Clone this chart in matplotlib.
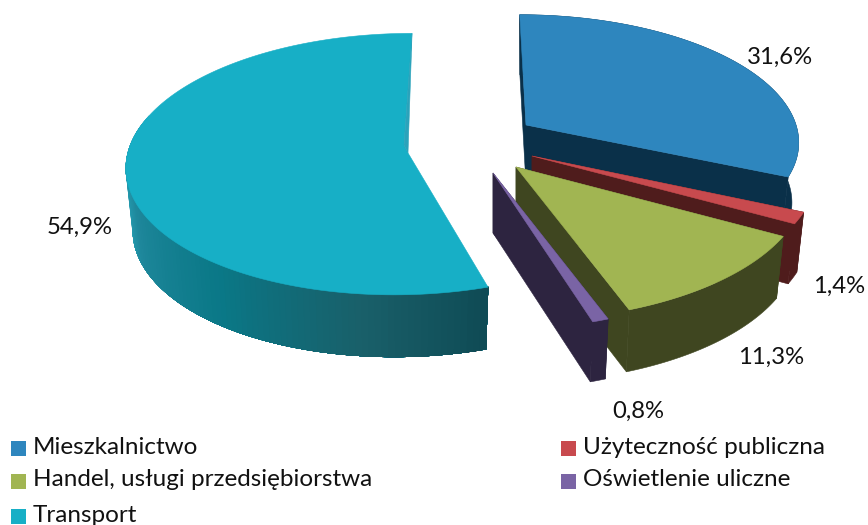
import numpy as np
import matplotlib
matplotlib.use("Agg")
import matplotlib.pyplot as plt
from matplotlib.patches import Polygon, Rectangle

# data
categories = ["Mieszkalnictwo", "Użyteczność publiczna", "Handel, usługi przedsiębiorstwa",
              "Oświetlenie uliczne", "Transport"]
shares = [31.6, 1.4, 11.3, 0.8, 54.9]

top_colors = ["#2E86BE", "#C84A4E", "#A1B552", "#7A64A5", "#17AFC6"]
side_colors = ["#0A3049", "#4F1C1C", "#3F4620", "#2D2440", "#0A7888"]

# where each exploded slice sits on the canvas: tip x, tip y, a, b, shear, depth
slice_geom = [
    (526, 125, 270, 123, -7, 60),
    (532, 156, 283, 133, 0, 60),
    (516, 167, 288, 136, 0, 62),
    (493, 173, 293, 139, 0, 60),
    (404, 149, 275, 129, 9, 62),
]
label_pos = [(780, 57), (839, 286), (771, 357), (638, 411), (80, 227)]
legend_pos = [(11, 441), (561, 441), (11, 474), (561, 474), (11, 509)]

persp = 0.1155
bottom_shrink = 0.975

plt.rcParams['font.family'] = ['Lato', 'DejaVu Sans']

fig = plt.figure(figsize=(8.68, 5.25), dpi=100)
ax = fig.add_axes([0, 0, 1, 1])
ax.set_xlim(0, 868)
ax.set_ylim(525, 0)
ax.axis('off')


def ring(theta, geom, bottom=False):
    # circle seen in perspective, theta clockwise from the far side
    tx, ty, a, b, s, d = geom
    w = 1 + persp * np.cos(theta)
    x = (a * np.sin(theta) + s * np.cos(theta)) / w
    y = -b * np.cos(theta) / w
    if bottom:
        return np.column_stack([tx + x * bottom_shrink, ty + d + y])
    return np.column_stack([tx + x, ty + y])


def poly(pts, color, z):
    ax.add_patch(Polygon(pts, closed=True, facecolor=color, edgecolor=color, lw=0.4, zorder=z))


def teal_shade(theta):
    stops = np.radians([162, 185, 215, 245, 262, 280])
    rgb = np.array([[15, 75, 85], [25, 95, 105], [10, 120, 135],
                    [30, 135, 155], [40, 165, 185], [40, 165, 185]]) / 255
    return [np.interp(theta, stops, rgb[:, i]) for i in range(3)]


edges = np.radians(np.concatenate([[0], np.cumsum(shares)]) * 3.6)

for i, share in enumerate(shares):
    geom = slice_geom[i]
    t0, t1 = edges[i], edges[i + 1]
    theta = np.linspace(t0, t1, 160)
    tx, ty, a, b, s, d = geom
    z = i * 10
    arc = ring(theta, geom)
    low = ring(theta, geom, bottom=True)
    tip = np.array([tx, ty])
    low_tip = np.array([tx, ty + d])

    if categories[i] == "Transport":
        # the notch at the tip, the far cut face shows as a thin sliver
        tip = np.array([404, 145])
        corner = np.array([408, 153])
        poly([arc[-1], tip, corner], "#2AA3BB", z + 3)
        # outer wall: painted from the far left back to the front, each pass
        # stopping a bit earlier, so the shading has no seams between strips
        wall = np.where(theta < np.radians(285))[0]
        for j in wall[::-1]:
            strip = np.vstack([arc[wall[0]:j + 2], low[wall[0]:j + 2][::-1]])
            poly(strip, teal_shade(theta[j]), z)
        poly(np.vstack([arc, tip, corner]), top_colors[i], z + 2)
        continue

    # cut faces, outer wall, top
    poly([tip, arc[0], low[0], low_tip], side_colors[i], z)
    poly([tip, arc[-1], low[-1], low_tip], side_colors[i], z)
    poly(np.vstack([arc, low[::-1]]), side_colors[i], z + 1)
    poly(np.vstack([tip, arc]), top_colors[i], z + 2)

# data labels
for share, (x, y) in zip(shares, label_pos):
    ax.text(x, y, f"{share:.1f}%".replace(".", ","), fontsize=17.2, color="#111111",
            ha='center', va='center', zorder=100)

# legend
for name, color, (x, y) in zip(categories, top_colors, legend_pos):
    ax.add_patch(Rectangle((x, y), 15, 15, facecolor=color, edgecolor='none', zorder=100))
    ax.text(x + 22, y + 6, name, fontsize=17.5, color="#111111", ha='left', va='center', zorder=100)

fig.savefig("out.png", dpi=100)
